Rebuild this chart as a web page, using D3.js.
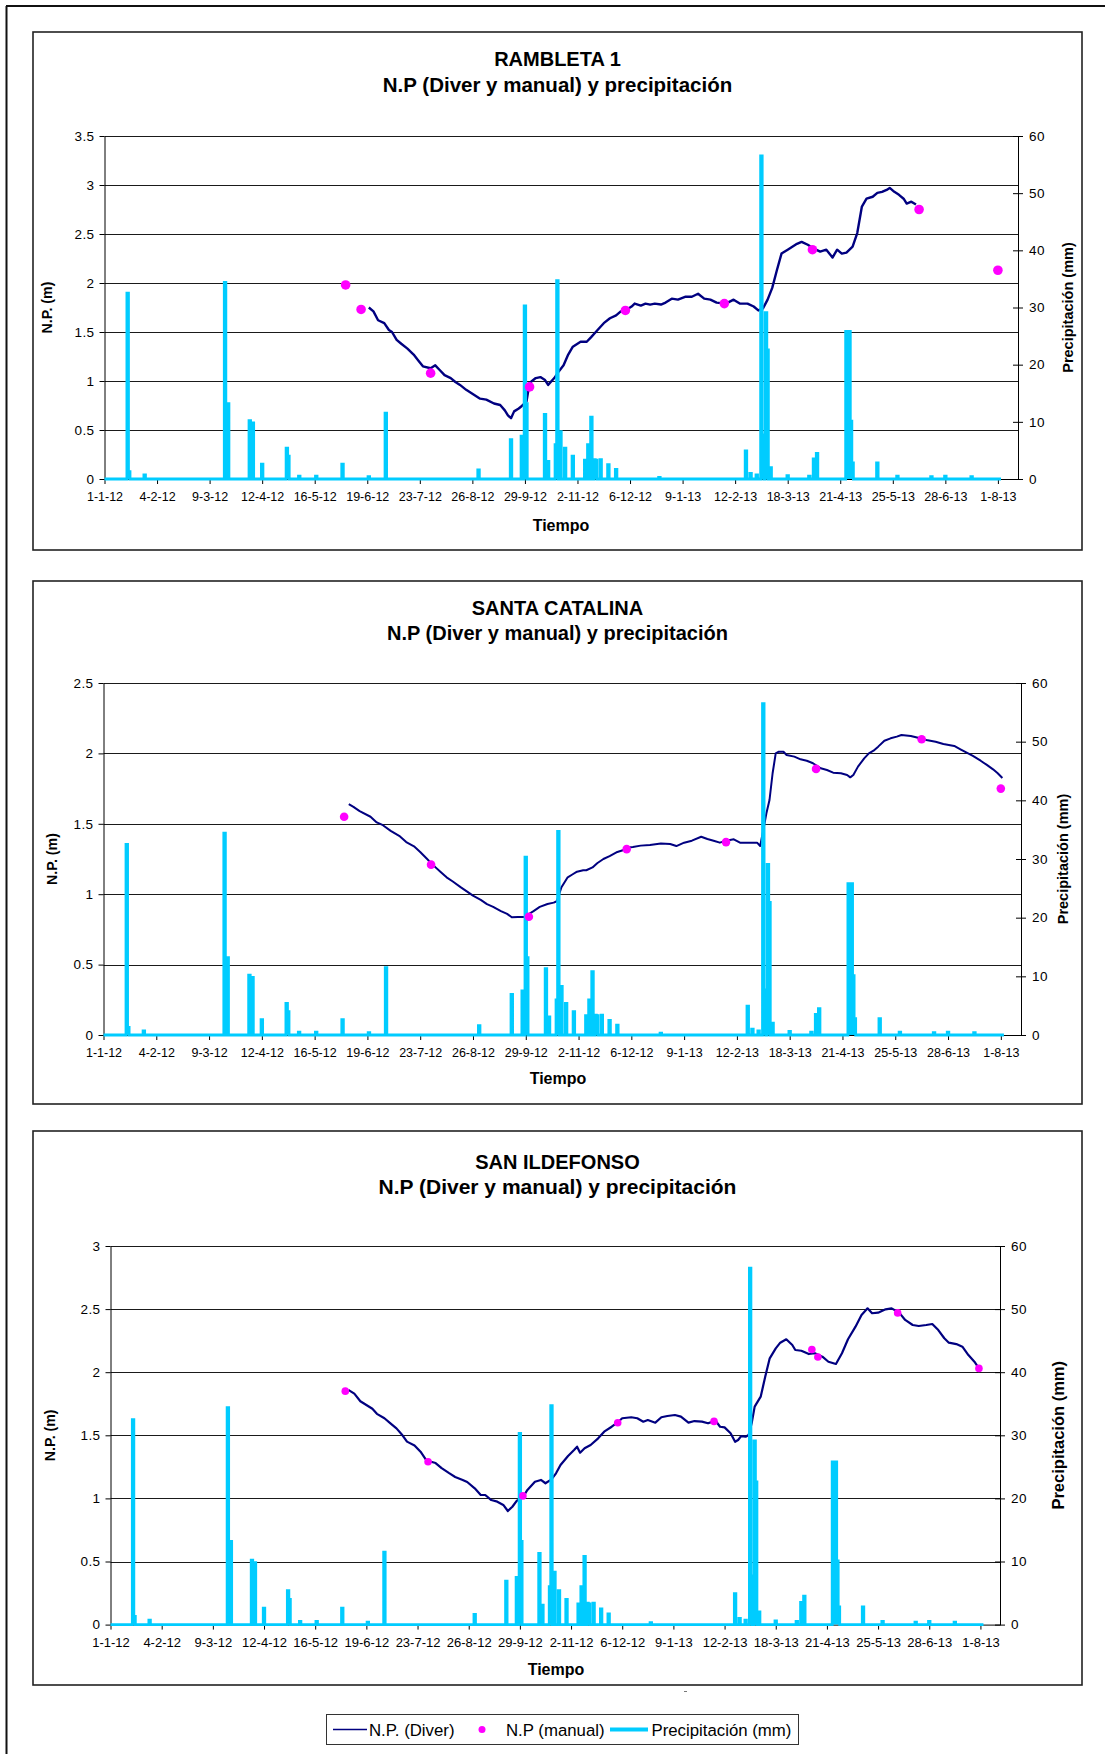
<!DOCTYPE html>
<html>
<head>
<meta charset="utf-8">
<script src="https://cdn.jsdelivr.net/npm/d3@7"></script>
<style>
  body { margin: 0; background: #fff; }
  text { font-family: "Liberation Sans", Arial, sans-serif; }
</style>
</head>
<body>
<svg id="chart" width="1105" height="1754"></svg>
<script>
// ---- data ----
const xTickLabels = ["1-1-12","4-2-12","9-3-12","12-4-12","16-5-12","19-6-12","23-7-12","26-8-12","29-9-12",
  "2-11-12","6-12-12","9-1-13","12-2-13","18-3-13","21-4-13","25-5-13","28-6-13","1-8-13"];
const xStart = "2012-01-01", xEnd = "2013-08-14";

const precipTicks = [0, 10, 20, 30, 40, 50, 60];
const ramTicks = [0, 0.5, 1, 1.5, 2, 2.5, 3, 3.5];
const catTicks = [0, 0.5, 1, 1.5, 2, 2.5];
const ildTicks = [0, 0.5, 1, 1.5, 2, 2.5, 3];

// daily rain record, days not listed are 0 mm
const precipStart = "2012-01-01", precipEnd = "2013-08-03";
const precipEvents = [
  ["2012-01-16",32.5],["2012-01-17",1.3],["2012-01-27",0.7],["2012-03-19",34.4],["2012-03-21",13.2],
  ["2012-04-04",10.2],["2012-04-06",9.8],["2012-04-12",2.6],["2012-04-28",5.4],["2012-04-29",4.0],
  ["2012-05-06",0.5],["2012-05-17",0.5],["2012-06-03",2.6],["2012-06-20",0.4],["2012-07-01",11.5],
  ["2012-08-30",1.6],["2012-09-20",6.9],["2012-09-27",7.5],["2012-09-29",30.3],["2012-09-30",13.2],
  ["2012-10-12",11.3],["2012-10-14",3.1],["2012-10-19",6.0],["2012-10-20",34.7],["2012-10-22",8.3],
  ["2012-10-25",5.4],["2012-10-30",4.0],["2012-11-07",3.3],["2012-11-09",6.0],["2012-11-11",10.8],
  ["2012-11-13",3.4],["2012-11-14",3.3],["2012-11-17",3.4],["2012-11-22",2.5],["2012-11-27",1.7],
  ["2012-12-25",0.3],["2013-02-19",4.9],["2013-02-22",1.0],["2013-02-26",0.7],["2013-03-01",56.5],
  ["2013-03-02",7.7],["2013-03-04",29.1],["2013-03-05",22.6],["2013-03-07",2.0],["2013-03-18",0.6],
  ["2013-04-01",0.5],["2013-04-04",3.5],["2013-04-06",4.5],["2013-04-25",25.8],["2013-04-26",25.8],
  ["2013-04-27",25.8],["2013-04-28",10.1],["2013-04-29",2.8],["2013-05-15",2.8],["2013-05-28",0.5],
  ["2013-06-19",0.4],["2013-06-28",0.5],["2013-07-15",0.4]
];

// RAMBLETA 1
const ramDiver = [
  ["2012-06-20",1.75],["2012-06-23",1.71],["2012-06-26",1.62],["2012-06-30",1.59],["2012-07-03",1.52],
  ["2012-07-05",1.50],["2012-07-08",1.42],["2012-07-11",1.38],["2012-07-15",1.33],["2012-07-19",1.27],
  ["2012-07-22",1.21],["2012-07-25",1.15],["2012-07-30",1.13],["2012-08-02",1.16],["2012-08-05",1.11],
  ["2012-08-08",1.06],["2012-08-12",1.03],["2012-08-15",0.99],["2012-08-18",0.96],["2012-08-22",0.91],
  ["2012-08-27",0.86],["2012-08-31",0.82],["2012-09-04",0.81],["2012-09-09",0.77],["2012-09-13",0.755],
  ["2012-09-16",0.70],["2012-09-18",0.65],["2012-09-20",0.62],["2012-09-22",0.69],["2012-09-25",0.72],
  ["2012-09-27",0.745],["2012-09-30",0.79],["2012-10-02",0.98],["2012-10-06",1.03],["2012-10-09",1.04],
  ["2012-10-12",1.01],["2012-10-14",0.96],["2012-10-18",1.03],["2012-10-21",1.10],["2012-10-24",1.16],
  ["2012-10-27",1.27],["2012-10-30",1.35],["2012-11-04",1.40],["2012-11-08",1.40],["2012-11-11",1.45],
  ["2012-11-15",1.52],["2012-11-19",1.59],["2012-11-23",1.64],["2012-11-27",1.67],["2012-11-30",1.71],
  ["2012-12-03",1.72],["2012-12-07",1.76],["2012-12-09",1.79],["2012-12-13",1.77],["2012-12-16",1.79],
  ["2012-12-19",1.78],["2012-12-22",1.79],["2012-12-26",1.78],["2012-12-29",1.80],["2013-01-02",1.84],
  ["2013-01-06",1.83],["2013-01-11",1.86],["2013-01-15",1.86],["2013-01-19",1.89],["2013-01-23",1.84],
  ["2013-01-27",1.83],["2013-01-31",1.80],["2013-02-06",1.79],["2013-02-11",1.83],["2013-02-15",1.79],
  ["2013-02-20",1.79],["2013-02-24",1.76],["2013-02-27",1.72],["2013-03-02",1.74],["2013-03-05",1.83],
  ["2013-03-08",1.95],["2013-03-11",2.13],["2013-03-14",2.30],["2013-03-18",2.34],["2013-03-21",2.37],
  ["2013-03-24",2.40],["2013-03-27",2.42],["2013-03-31",2.39],["2013-04-04",2.35],["2013-04-08",2.32],
  ["2013-04-12",2.34],["2013-04-16",2.26],["2013-04-19",2.34],["2013-04-22",2.30],["2013-04-25",2.31],
  ["2013-04-29",2.37],["2013-05-02",2.51],["2013-05-05",2.78],["2013-05-08",2.86],["2013-05-12",2.88],
  ["2013-05-15",2.92],["2013-05-18",2.93],["2013-05-21",2.95],["2013-05-23",2.97],["2013-05-26",2.93],
  ["2013-05-29",2.90],["2013-06-01",2.86],["2013-06-03",2.81],["2013-06-06",2.83],["2013-06-09",2.80]
];
const ramManual = [["2012-06-05",1.98],["2012-06-15",1.73],["2012-07-30",1.08],["2012-10-02",0.94],
  ["2012-12-03",1.72],["2013-02-05",1.79],["2013-04-03",2.34],["2013-06-11",2.75],["2013-08-01",2.13]];

// SANTA CATALINA
const catDiver = [
  ["2012-06-07",1.64],["2012-06-10",1.62],["2012-06-14",1.59],["2012-06-21",1.55],["2012-06-25",1.51],
  ["2012-06-29",1.49],["2012-07-04",1.45],["2012-07-10",1.41],["2012-07-14",1.37],["2012-07-19",1.34],
  ["2012-07-23",1.30],["2012-07-27",1.255],["2012-07-31",1.21],["2012-08-05",1.16],["2012-08-09",1.12],
  ["2012-08-13",1.09],["2012-08-18",1.05],["2012-08-22",1.02],["2012-08-26",0.99],["2012-08-31",0.96],
  ["2012-09-04",0.93],["2012-09-08",0.91],["2012-09-13",0.88],["2012-09-17",0.86],["2012-09-20",0.836],
  ["2012-09-24",0.838],["2012-09-28",0.838],["2012-10-04",0.88],["2012-10-08",0.91],["2012-10-13",0.93],
  ["2012-10-17",0.94],["2012-10-19",0.95],["2012-10-22",1.05],["2012-10-26",1.12],["2012-10-29",1.14],
  ["2012-11-01",1.16],["2012-11-05",1.17],["2012-11-07",1.17],["2012-11-11",1.19],["2012-11-14",1.22],
  ["2012-11-18",1.25],["2012-11-22",1.27],["2012-11-27",1.30],["2012-11-30",1.31],["2012-12-03",1.33],
  ["2012-12-07",1.335],["2012-12-12",1.345],["2012-12-18",1.35],["2012-12-25",1.36],["2012-12-31",1.357],
  ["2013-01-04",1.342],["2013-01-09",1.366],["2013-01-14",1.38],["2013-01-20",1.408],["2013-01-24",1.392],
  ["2013-01-28",1.38],["2013-02-01",1.366],["2013-02-05",1.38],["2013-02-10",1.39],["2013-02-14",1.366],
  ["2013-02-21",1.366],["2013-02-25",1.366],["2013-02-27",1.342],["2013-03-01",1.456],["2013-03-03",1.575],
  ["2013-03-05",1.669],["2013-03-07",1.859],["2013-03-09",2.0],["2013-03-11",2.012],["2013-03-14",2.012],
  ["2013-03-16",1.989],["2013-03-21",1.977],["2013-03-25",1.958],["2013-03-29",1.948],["2013-04-02",1.930],
  ["2013-04-07",1.894],["2013-04-11",1.882],["2013-04-15",1.863],["2013-04-20",1.859],["2013-04-24",1.847],
  ["2013-04-26",1.830],["2013-04-28",1.847],["2013-05-01",1.906],["2013-05-05",1.965],["2013-05-08",2.0],
  ["2013-05-11",2.019],["2013-05-14",2.048],["2013-05-18",2.090],["2013-05-22",2.107],["2013-05-26",2.119],
  ["2013-05-29",2.131],["2013-06-04",2.124],["2013-06-10",2.107],["2013-06-14",2.095],["2013-06-20",2.083],
  ["2013-06-25",2.067],["2013-07-02",2.053],["2013-07-06",2.029],["2013-07-10",2.005],["2013-07-14",1.982],
  ["2013-07-19",1.948],["2013-07-23",1.918],["2013-07-27",1.887],["2013-07-30",1.859],["2013-08-02",1.825]
];
const catManual = [["2012-06-04",1.55],["2012-07-30",1.21],["2012-10-01",0.84],["2012-12-03",1.32],
  ["2013-02-05",1.37],["2013-04-04",1.89],["2013-06-11",2.10],["2013-08-01",1.75]];

// SAN ILDEFONSO
const ildDiver = [
  ["2012-06-07",1.86],["2012-06-11",1.83],["2012-06-15",1.77],["2012-06-19",1.74],["2012-06-23",1.71],
  ["2012-06-26",1.67],["2012-07-01",1.635],["2012-07-05",1.595],["2012-07-09",1.555],["2012-07-13",1.50],
  ["2012-07-16",1.45],["2012-07-21",1.42],["2012-07-25",1.37],["2012-07-29",1.30],["2012-08-04",1.28],
  ["2012-08-08",1.24],["2012-08-13",1.20],["2012-08-17",1.17],["2012-08-22",1.146],["2012-08-25",1.13],
  ["2012-08-30",1.08],["2012-09-03",1.027],["2012-09-06",1.027],["2012-09-10",0.987],["2012-09-14",0.974],
  ["2012-09-18",0.948],["2012-09-21",0.90],["2012-09-24",0.934],["2012-09-27",0.982],["2012-10-01",1.009],
  ["2012-10-04",1.067],["2012-10-09",1.132],["2012-10-13",1.146],["2012-10-16",1.12],["2012-10-20",1.151],
  ["2012-10-23",1.199],["2012-10-26",1.265],["2012-10-31",1.336],["2012-11-04",1.384],["2012-11-06",1.41],
  ["2012-11-08",1.362],["2012-11-11",1.397],["2012-11-15",1.423],["2012-11-20",1.476],["2012-11-24",1.529],
  ["2012-11-29",1.568],["2012-12-03",1.603],["2012-12-06",1.635],["2012-12-12",1.643],["2012-12-16",1.635],
  ["2012-12-20",1.608],["2012-12-23",1.621],["2012-12-28",1.60],["2013-01-01",1.643],["2013-01-05",1.653],
  ["2013-01-10",1.661],["2013-01-14",1.648],["2013-01-19",1.60],["2013-01-23",1.613],["2013-01-28",1.608],
  ["2013-02-01",1.595],["2013-02-06",1.616],["2013-02-09",1.568],["2013-02-12",1.563],["2013-02-16",1.516],
  ["2013-02-19",1.449],["2013-02-21",1.463],["2013-02-23",1.494],["2013-02-26",1.489],["2013-02-28",1.502],
  ["2013-03-02",1.595],["2013-03-04",1.727],["2013-03-08",1.806],["2013-03-11",1.964],["2013-03-14",2.110],
  ["2013-03-18",2.189],["2013-03-21",2.234],["2013-03-25",2.261],["2013-03-29",2.216],["2013-03-31",2.176],
  ["2013-04-04",2.170],["2013-04-09",2.144],["2013-04-13",2.150],["2013-04-18",2.123],["2013-04-22",2.083],
  ["2013-04-27",2.065],["2013-05-01",2.150],["2013-05-05",2.261],["2013-05-10",2.361],["2013-05-14",2.453],
  ["2013-05-18",2.506],["2013-05-21",2.467],["2013-05-25",2.472],["2013-05-30",2.498],["2013-06-03",2.506],
  ["2013-06-08",2.472],["2013-06-12",2.414],["2013-06-17",2.374],["2013-06-21",2.366],["2013-06-26",2.374],
  ["2013-06-30",2.382],["2013-07-04",2.334],["2013-07-08",2.269],["2013-07-11",2.234],["2013-07-16",2.223],
  ["2013-07-20",2.202],["2013-07-24",2.136],["2013-07-28",2.083],["2013-07-31",2.031]
];
const ildManual = [["2012-06-05",1.85],["2012-07-30",1.29],["2012-10-01",1.02],["2012-12-03",1.60],
  ["2013-02-05",1.61],["2013-04-11",2.18],["2013-04-15",2.12],["2013-06-07",2.47],["2013-07-31",2.03]];

const legendLabels = ["N.P. (Diver)", "N.P (manual)", "Precipitación (mm)"];

// ---- colours ----
const cDiver = "#000080", cManual = "#ff00ff", cRain = "#00ccff";

const parseISO = d3.utcParse("%Y-%m-%d");
const parseTick = d3.utcParse("%d-%m-%y");

const rainMap = new Map(precipEvents);
const rainDaily = d3.utcDay.range(parseISO(precipStart), d3.utcDay.offset(parseISO(precipEnd), 1))
  .map(d => [d, rainMap.get(d3.utcFormat("%Y-%m-%d")(d)) || 0]);

const svg = d3.select("#chart");

// outer page frame (top + left)
svg.append("line").attr("x1", 6).attr("x2", 1105).attr("y1", 6).attr("y2", 6)
  .attr("stroke", "#111").attr("stroke-width", 2);
svg.append("line").attr("x1", 6.5).attr("x2", 6.5).attr("y1", 6).attr("y2", 1754)
  .attr("stroke", "#111").attr("stroke-width", 2);

const charts = [
  { title: "RAMBLETA 1", box: [33, 32, 1082, 550], l: 104.5, r: 1018, t: 136, b: 479,
    yMax: 3.5, yTicks: ramTicks, diver: ramDiver, manual: ramManual,
    t1: 66, t2: 91.5, t2Size: 20.5, tiempoY: 531, tiempoX: 561,
    lTitleX: 52, rTitleX: 1073, rTitleSize: 14.5, dotR: 4.8, xFont: 12.5, lineW: 2.4 },
  { title: "SANTA CATALINA", box: [33, 581, 1082, 1104], l: 103.5, r: 1021, t: 683, b: 1035,
    yMax: 2.5, yTicks: catTicks, diver: catDiver, manual: catManual,
    t1: 615, t2: 640, t2Size: 20, tiempoY: 1084, tiempoX: 558,
    lTitleX: 57, rTitleX: 1068, rTitleSize: 14.5, dotR: 4.3, xFont: 12.5, lineW: 2 },
  { title: "SAN ILDEFONSO", box: [33, 1131, 1082, 1685], l: 110.5, r: 1000, t: 1246, b: 1624.6,
    yMax: 3, yTicks: ildTicks, diver: ildDiver, manual: ildManual,
    t1: 1168.5, t2: 1193.5, t2Size: 21, tiempoY: 1675, tiempoX: 556,
    lTitleX: 55, rTitleX: 1064, rTitleSize: 16.5, dotR: 3.8, xFont: 13, lineW: 2.2 }
];

function drawChart(c) {
  const g = svg.append("g");
  g.append("rect")
    .attr("x", c.box[0]).attr("y", c.box[1])
    .attr("width", c.box[2] - c.box[0]).attr("height", c.box[3] - c.box[1])
    .attr("fill", "#fff").attr("stroke", "#222").attr("stroke-width", 1.6);

  const x = d3.scaleUtc().domain([parseISO(xStart), parseISO(xEnd)]).range([c.l, c.r]);
  const y = d3.scaleLinear().domain([0, c.yMax]).range([c.b, c.t]);
  const yP = d3.scaleLinear().domain([0, 60]).range([c.b, c.t]);

  // gridlines
  g.append("g").selectAll("line").data(c.yTicks.filter(v => v > 0)).join("line")
    .attr("x1", c.l).attr("x2", c.r)
    .attr("y1", d => Math.round(y(d)) + 0.5).attr("y2", d => Math.round(y(d)) + 0.5)
    .attr("stroke", "#1a1a1a").attr("stroke-width", 1);

  // axes
  const ax = g.append("g").attr("transform", `translate(0,${c.b})`)
    .call(d3.axisBottom(x).tickValues(xTickLabels.map(parseTick))
      .tickFormat((d, i) => xTickLabels[i]).tickSize(5).tickSizeOuter(0).tickPadding(8));
  ax.selectAll("text").attr("font-size", c.xFont);

  const ay = g.append("g").attr("transform", `translate(${c.l},0)`)
    .call(d3.axisLeft(y).tickValues(c.yTicks).tickFormat(d3.format("")).tickSize(5).tickSizeOuter(0).tickPadding(5));
  ay.selectAll("text").attr("font-size", 13.5).attr("letter-spacing", 0.4);

  const ar = g.append("g").attr("transform", `translate(${c.r},0)`)
    .call(d3.axisRight(yP).tickValues(precipTicks).tickSize(5).tickSizeOuter(0).tickPadding(6));
  ar.selectAll(".tick line").attr("x1", -5);
  ar.selectAll("text").attr("font-size", 13.5).attr("letter-spacing", 0.4);

  [ax, ay, ar].forEach(a => a.attr("font-family", null)
    .selectAll("path,line").attr("stroke", "#000"));

  // N.P. Diver line
  g.append("path")
    .datum(c.diver.map(d => [parseISO(d[0]), d[1]]))
    .attr("fill", "none").attr("stroke", cDiver).attr("stroke-width", c.lineW)
    .attr("stroke-linejoin", "round")
    .attr("d", d3.line().x(d => x(d[0])).y(d => y(d[1])));

  // precipitation (secondary axis): filled step + thick stroke
  g.append("path")
    .datum(rainDaily)
    .attr("fill", cRain).attr("stroke", "none")
    .attr("d", d3.area().curve(d3.curveStep).x(d => x(d[0])).y0(yP(0)).y1(d => yP(d[1])));
  g.append("path")
    .datum(rainDaily)
    .attr("fill", "none").attr("stroke", cRain).attr("stroke-width", 2.8)
    .attr("d", d3.line().curve(d3.curveStep).x(d => x(d[0])).y(d => yP(d[1])));

  // manual readings
  g.append("g").selectAll("circle").data(c.manual).join("circle")
    .attr("cx", d => x(parseISO(d[0]))).attr("cy", d => y(d[1]))
    .attr("r", c.dotR).attr("fill", cManual);

  // titles
  const cx = (c.box[0] + c.box[2]) / 2;
  g.append("text").attr("x", cx).attr("y", c.t1).attr("text-anchor", "middle")
    .attr("font-size", 20).attr("font-weight", "bold").text(c.title);
  g.append("text").attr("x", cx).attr("y", c.t2).attr("text-anchor", "middle")
    .attr("font-size", c.t2Size).attr("font-weight", "bold").text("N.P (Diver y manual) y precipitación");
  g.append("text").attr("x", c.tiempoX).attr("y", c.tiempoY).attr("text-anchor", "middle")
    .attr("font-size", 16).attr("font-weight", "bold").text("Tiempo");

  const midY = (c.t + c.b) / 2;
  g.append("text").attr("transform", `translate(${c.lTitleX},${midY}) rotate(-90)`)
    .attr("text-anchor", "middle").attr("font-size", 14.2).attr("font-weight", "bold").text("N.P. (m)");
  g.append("text").attr("transform", `translate(${c.rTitleX},${midY}) rotate(-90)`)
    .attr("text-anchor", "middle").attr("font-size", c.rTitleSize).attr("font-weight", "bold")
    .text("Precipitación (mm)");
}

charts.forEach(drawChart);

// small stray mark under the last chart
svg.append("line").attr("x1", 684).attr("x2", 687).attr("y1", 1691.5).attr("y2", 1691.5)
  .attr("stroke", "#777").attr("stroke-width", 1);

// legend
const lg = svg.append("g");
lg.append("rect").attr("x", 326.5).attr("y", 1714.5).attr("width", 472).attr("height", 30)
  .attr("fill", "#fff").attr("stroke", "#333").attr("stroke-width", 1);
const ly = 1729.5, lBase = 1735.5;
lg.append("line").attr("x1", 333).attr("x2", 367).attr("y1", ly).attr("y2", ly)
  .attr("stroke", cDiver).attr("stroke-width", 1.5);
lg.append("text").attr("x", 369).attr("y", lBase).attr("font-size", 16.8).text(legendLabels[0]);
lg.append("circle").attr("cx", 482).attr("cy", ly).attr("r", 3.5).attr("fill", cManual);
lg.append("text").attr("x", 506).attr("y", lBase).attr("font-size", 16.8).text(legendLabels[1]);
lg.append("line").attr("x1", 610).attr("x2", 648).attr("y1", ly).attr("y2", ly)
  .attr("stroke", cRain).attr("stroke-width", 4);
lg.append("text").attr("x", 651.5).attr("y", lBase).attr("font-size", 16.8).text(legendLabels[2]);
</script>
</body>
</html>
